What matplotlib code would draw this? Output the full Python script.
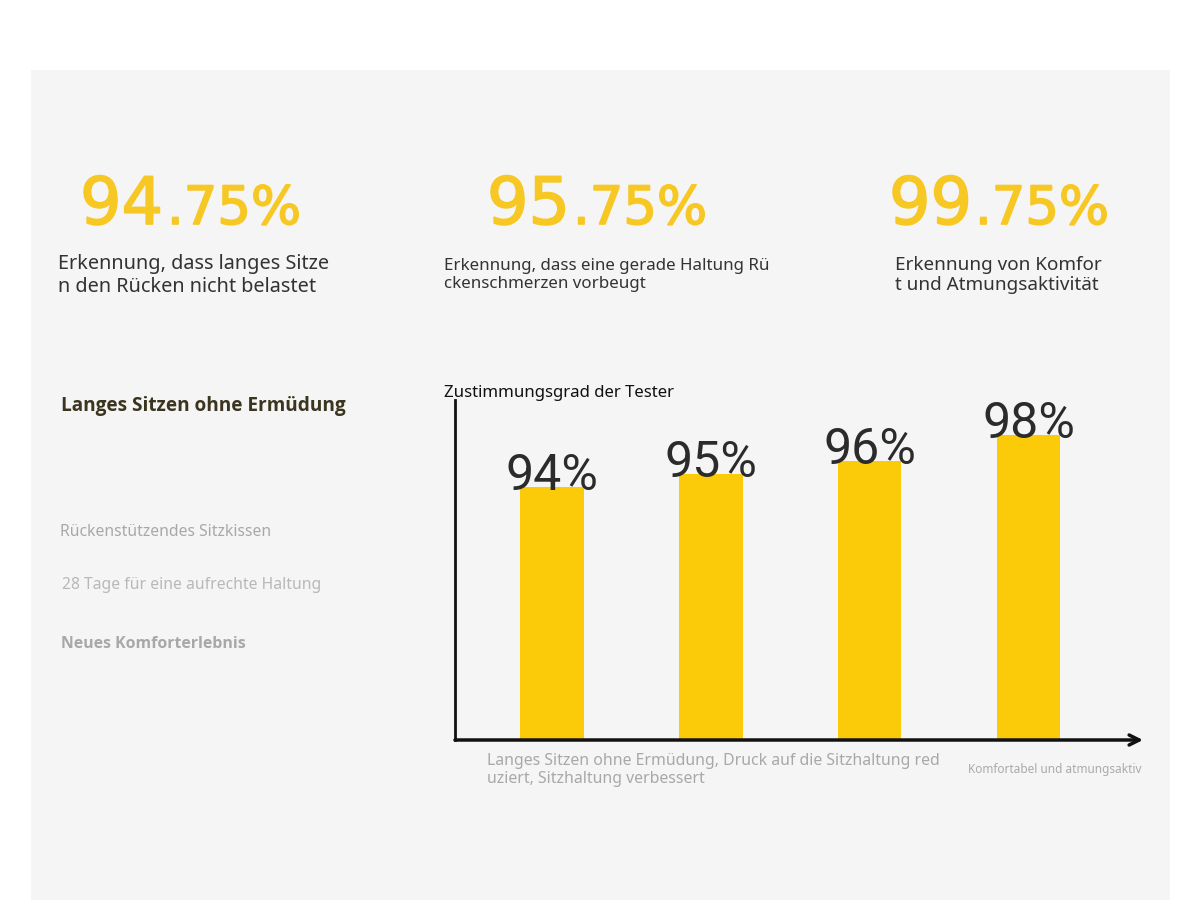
import matplotlib.pyplot as plt
import matplotlib.patheffects as pe
from matplotlib.patches import Rectangle

# data
categories = ['A', 'B', 'C', 'D']
values = [94, 95, 96, 98]
bar_labels = ['94%', '95%', '96%', '98%']

big_main = ['94', '95', '99']
big_frac = ['.75%', '.75%', '.75%']
big_desc = ['Erkennung, dass langes Sitze\nn den Rücken nicht belastet',
            'Erkennung, dass eine gerade Haltung Rü\nckenschmerzen vorbeugt',
            'Erkennung von Komfor\nt und Atmungsaktivität']

W, H = 1200, 906
YEL = '#fbcb0a'
BIGYEL = '#f7c823'


def px(x, y):
    # pixel coords -> figure fraction
    return x / W, 1 - y / H


fig = plt.figure(figsize=(12, 9.06), dpi=100)
fig.patch.set_facecolor('white')

# light panel
fig.patches.append(Rectangle(px(31, 900), 1139 / W, 830 / H, transform=fig.transFigure,
                             facecolor='#f5f5f5', edgecolor='none', zorder=0))

# big numbers on top
main_x = [80, 487, 889]
frac_x = [167, 573, 975]
desc_x = [58, 444, 895]
desc_y = [275, 275, 275]
desc_size = [14.3, 12.2, 13.6]
thick = [pe.withStroke(linewidth=1.2, foreground=BIGYEL)]
for i in range(3):
    fig.text(*px(main_x[i], 224), big_main[i], color=BIGYEL, fontsize=47,
             family='DejaVu Sans', va='baseline', ha='left', zorder=2, path_effects=thick)
    fig.text(*px(frac_x[i], 224), big_frac[i], color=BIGYEL, fontsize=38,
             family='DejaVu Sans', va='baseline', ha='left', zorder=2, path_effects=thick)
    fig.text(*px(desc_x[i], desc_y[i]), big_desc[i], color='#333333', fontsize=desc_size[i],
             family='Noto Sans', va='center', ha='left', linespacing=1.2, zorder=2)

# left column
fig.text(*px(61, 406), 'Langes Sitzen ohne Ermüdung', color='#3b3520', fontsize=13.7,
         fontweight='bold', family='Open Sans', va='center', zorder=2)
fig.text(*px(60, 532), 'Rückenstützendes Sitzkissen', color='#a8a8a8', fontsize=11.3,
         family='Noto Sans', va='center', zorder=2)
fig.text(*px(62, 585), '28 Tage für eine aufrechte Haltung', color='#b8b8b8', fontsize=11.3,
         family='Noto Sans', va='center', zorder=2)
fig.text(*px(61, 644), 'Neues Komforterlebnis', color='#a8a8a8', fontsize=11.4,
         fontweight='bold', family='Open Sans', va='center', zorder=2)

# bar chart
ax = fig.add_axes([455 / W, 1 - 740 / H, (1143 - 455) / W, 340 / H])
ax.set_zorder(1)
ax.patch.set_alpha(0)
x = range(len(values))
ax.bar(x, values, width=0.4, color=YEL, zorder=2)
ax.set_xlim(-0.61, 3.72)
ax.set_ylim(74.5, 100.7)
for xi, v, lab in zip(x, values, bar_labels):
    ax.annotate(lab, (xi, v), xytext=(0, -2), textcoords='offset points',
                ha='center', va='baseline', fontsize=36, color='#2b2b2b',
                family='Roboto', zorder=3)
for s in ['top', 'right', 'bottom']:
    ax.spines[s].set_visible(False)
ax.spines['left'].set_linewidth(2)
ax.spines['left'].set_color('#111111')
ax.set_xticks([])
ax.set_yticks([])
ax.annotate('', xy=(1, 0), xytext=(0, 0), xycoords='axes fraction',
            arrowprops=dict(arrowstyle='->', lw=2.5, color='#111111',
                            shrinkA=0, shrinkB=0, mutation_scale=18), zorder=4)

fig.text(*px(444, 393), 'Zustimmungsgrad der Tester', color='#111111', fontsize=12.1,
         family='Noto Sans', va='center', zorder=2)
fig.text(*px(487, 770), 'Langes Sitzen ohne Ermüdung, Druck auf die Sitzhaltung red\nuziert, Sitzhaltung verbessert',
         color='#a8a8a8', fontsize=11.4, family='Noto Sans', va='center', linespacing=1.1, zorder=2)
fig.text(*px(968, 770), 'Komfortabel und atmungsaktiv', color='#aaaaaa', fontsize=8.5,
         family='Noto Sans', va='center', zorder=2)

fig.savefig('out.png', dpi=100)
